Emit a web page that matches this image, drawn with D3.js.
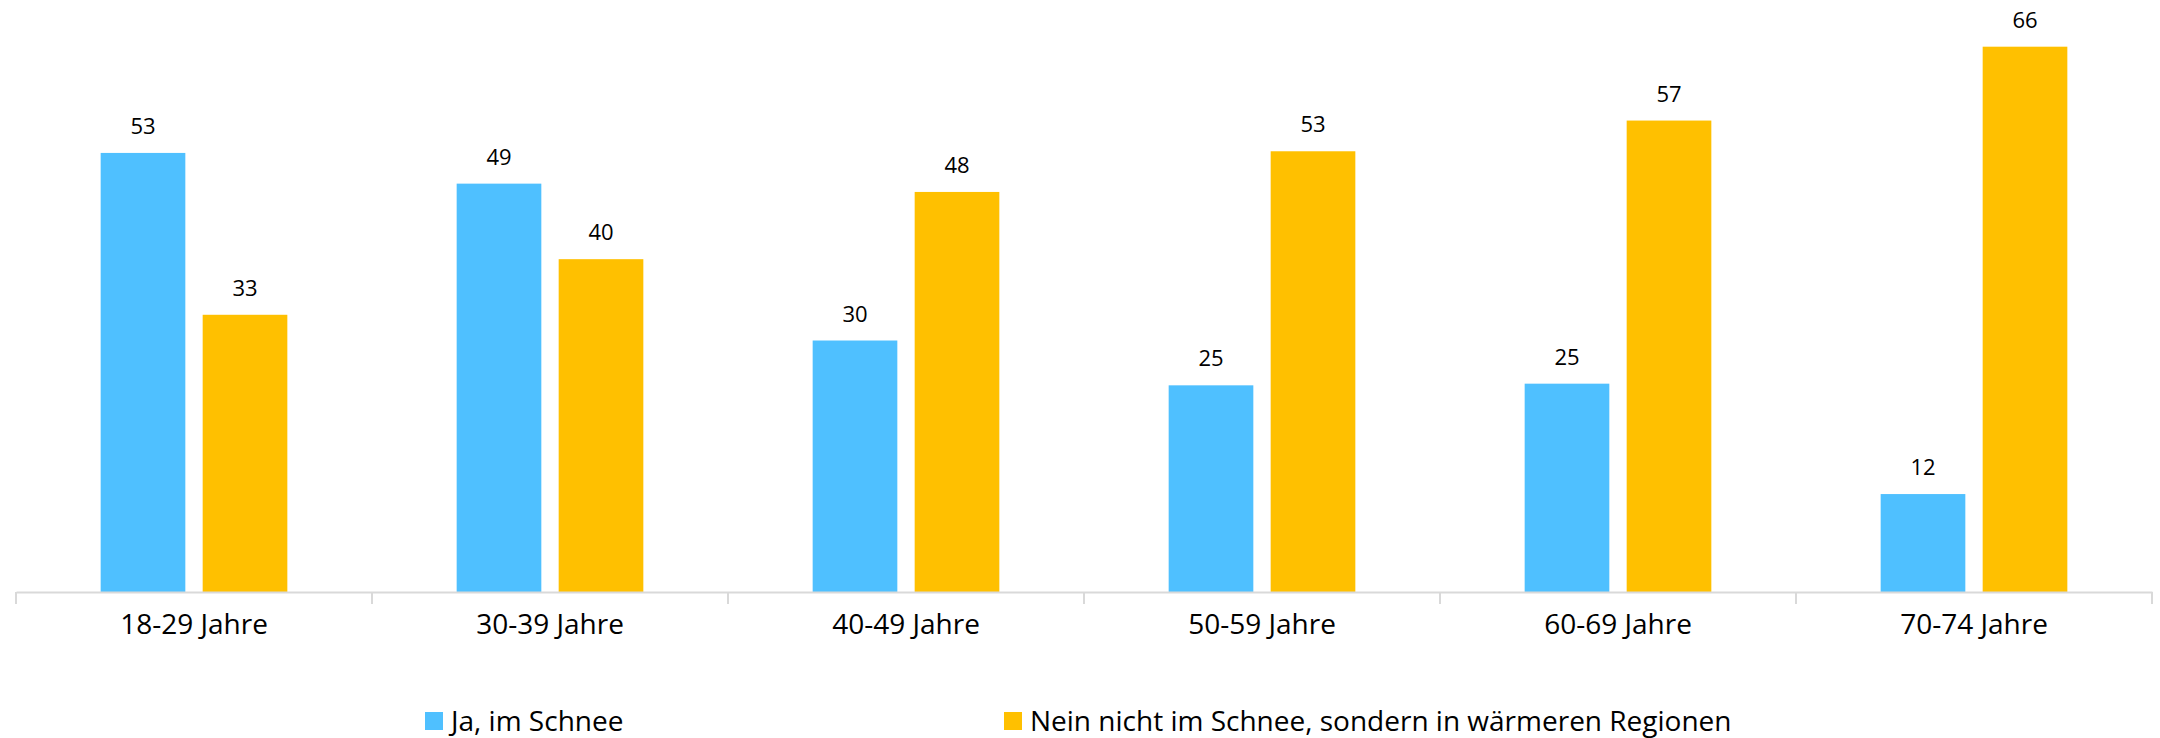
<!DOCTYPE html>
<html>
<head>
<meta charset="utf-8">
<script src="https://cdn.jsdelivr.net/npm/d3@7"></script>
<style>
  html, body { margin: 0; padding: 0; background: #ffffff; }
  svg { display: block; }
  text { font-family: "Open Sans", "Noto Sans", sans-serif; fill: #000000; }
</style>
</head>
<body>
<svg id="chart" width="2160" height="738"></svg>
<script>
// ---- data ----
const categories = ["18-29 Jahre", "30-39 Jahre", "40-49 Jahre", "50-59 Jahre", "60-69 Jahre", "70-74 Jahre"];
const seriesNames = ["Ja, im Schnee", "Nein nicht im Schnee, sondern in wärmeren Regionen"];
const valuesSchnee = [52.9, 49.2, 30.3, 24.9, 25.1, 11.8];
const valuesWarm = [33.4, 40.1, 48.2, 53.1, 56.8, 65.7];
const labelsSchnee = ["53", "49", "30", "25", "25", "12"];
const labelsWarm = ["33", "40", "48", "53", "57", "66"];
const colors = ["#4FC0FF", "#FFC000"];

// ---- layout ----
const svg = d3.select("#chart");
const W = 2160, H = 738;
const plotLeft = 16, plotRight = 2152, baseY = 592, topY = 11;

const x = d3.scaleBand().domain(categories).range([plotLeft, plotRight]).paddingInner(0).paddingOuter(0);
const xSub = d3.scaleBand().domain(seriesNames).range([0, x.bandwidth()]).paddingInner(0.17).paddingOuter(0.83);
const y = d3.scaleLinear().domain([0, 70]).range([baseY, topY]);

const rows = categories.map((c, i) => ({
  cat: c,
  vals: [
    { s: seriesNames[0], v: valuesSchnee[i], lab: labelsSchnee[i], col: colors[0] },
    { s: seriesNames[1], v: valuesWarm[i], lab: labelsWarm[i], col: colors[1] }
  ]
}));

const groups = svg.append("g").selectAll("g.cat")
  .data(rows).join("g")
  .attr("class", "cat")
  .attr("transform", d => `translate(${x(d.cat)},0)`);

groups.selectAll("rect")
  .data(d => d.vals).join("rect")
  .attr("x", d => xSub(d.s))
  .attr("y", d => y(d.v))
  .attr("width", xSub.bandwidth())
  .attr("height", d => y(0) - y(d.v))
  .attr("fill", d => d.col);

groups.selectAll("text.val")
  .data(d => d.vals).join("text")
  .attr("class", "val")
  .attr("x", d => xSub(d.s) + xSub.bandwidth() / 2)
  .attr("y", d => y(d.v) - 19)
  .attr("text-anchor", "middle")
  .style("font-size", "22px")
  .text(d => d.lab);

// ---- x axis ----
const axis = d3.axisBottom(x).tickSize(0).tickPadding(0).tickFormat(d => d);
const gx = svg.append("g").attr("transform", `translate(0,${baseY})`).call(axis);
gx.select(".domain").attr("stroke", "#D9D9D9").attr("stroke-width", 2);
gx.selectAll(".tick text")
  .attr("y", 42)
  .attr("dy", null)
  .style("font-size", "28px")
  .style("font-family", "'Open Sans', sans-serif")
  .attr("fill", "#000");

// boundary ticks
const boundaries = categories.map(c => x(c)).concat([x(categories[categories.length - 1]) + x.bandwidth()]);
gx.selectAll("line.bnd").data(boundaries).join("line")
  .attr("class", "bnd")
  .attr("x1", d => d).attr("x2", d => d)
  .attr("y1", 0).attr("y2", 12)
  .attr("stroke", "#D9D9D9").attr("stroke-width", 2);

// ---- legend ----
const legX = d3.scalePoint().domain(seriesNames).range([425, 1004]);
const leg = svg.append("g").selectAll("g.leg")
  .data(seriesNames).join("g")
  .attr("class", "leg")
  .attr("transform", d => `translate(${legX(d)},0)`);
leg.append("rect")
  .attr("x", 0).attr("y", 712)
  .attr("width", 18).attr("height", 18)
  .attr("fill", (d, i) => colors[i]);
leg.append("text")
  .attr("x", 26).attr("y", 731)
  .style("font-size", "28px")
  .text(d => d);
</script>
</body>
</html>
